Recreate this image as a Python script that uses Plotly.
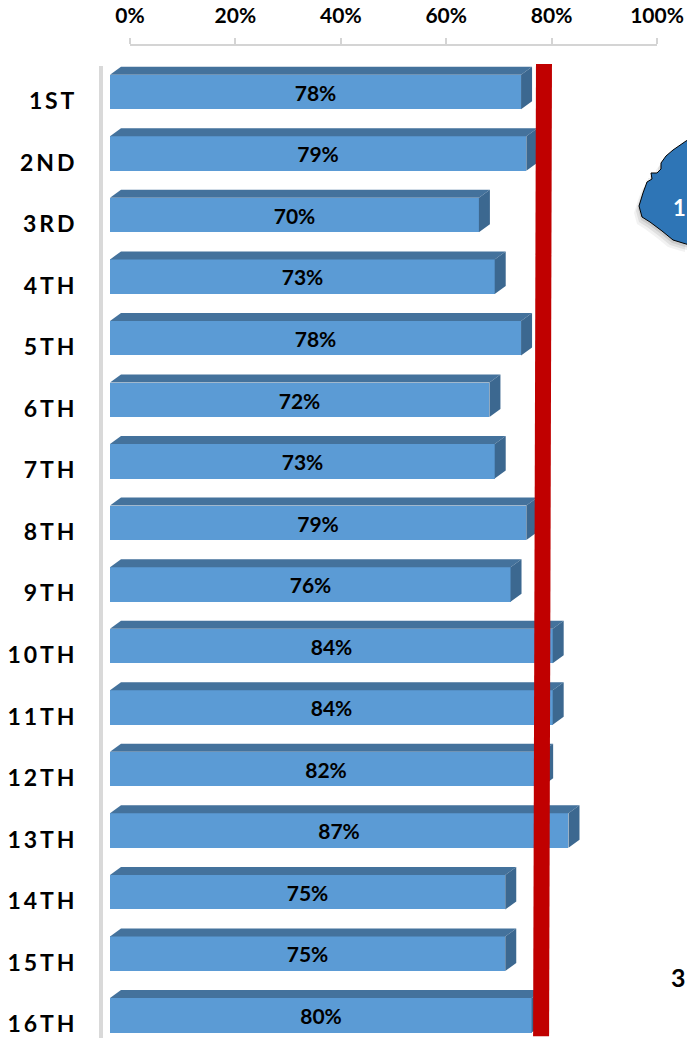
import plotly.graph_objects as go

CATEGORIES = ["1ST","2ND","3RD","4TH","5TH","6TH","7TH","8TH","9TH","10TH","11TH","12TH","13TH","14TH","15TH","16TH"]
VALUES = [78,79,70,73,78,72,73,79,76,84,84,82,87,75,75,80]
TICKS = [0,20,40,60,80,100]
TICK_LABELS = ["0%","20%","40%","60%","80%","100%"]
TARGET_X = [82.35,81.8]
TARGET_ROW = [-0.455,15.34]
BLOB_X = [690,686,673,666,661,661,657,651,652,647,643,639,642,650,662,673,686,690]
BLOB_Y = [139,141,150,156,163,169,173,173,179,182,193,206,217,222,231,240,244,245]

W,H = 687,1038
L,T = 103,46
PX = 5.27      # px per percent
ROW = 61.55    # px per row
DX = 11/PX; DY = 8/ROW; BH = 34.5/ROW
FONT = "Lato"
spaced = ["\u2009".join(c) for c in CATEGORIES]
rows = list(range(len(VALUES)))

fig = go.Figure()
topx,topy,sidex,sidey = [],[],[],[]
for r,v in zip(rows,VALUES):
    t = r-BH/2; b = r+BH/2
    topx += [0,v,v+DX,DX,0,None]; topy += [t,t,t-DY,t-DY,t,None]
    sidex += [v,v+DX,v+DX,v,v,None]; sidey += [t,t-DY,b-DY,b,t,None]
fig.add_trace(go.Scatter(x=topx,y=topy,fill="toself",fillcolor="#44729C",mode="none",hoverinfo="skip",showlegend=False))
fig.add_trace(go.Scatter(x=sidex,y=sidey,fill="toself",fillcolor="#3C6890",mode="none",hoverinfo="skip",showlegend=False))
fig.add_trace(go.Bar(x=VALUES,y=rows,orientation="h",width=BH,marker=dict(color="#5B9BD5",line=dict(width=0)),
    text=[f"{v}%" for v in VALUES],textposition="inside",insidetextanchor="middle",textangle=0,
    constraintext="none",textfont=dict(family=FONT,size=21,color="black",weight="bold"),showlegend=False))
fig.add_trace(go.Scatter(x=TARGET_X,y=TARGET_ROW,mode="lines",line=dict(color="#C00000",width=16),hoverinfo="skip",showlegend=False))
# helper traces that keep the two display axes alive
fig.add_trace(go.Scatter(x=TICKS,y=[0]*len(TICKS),xaxis="x2",yaxis="y",mode="markers",opacity=0,hoverinfo="skip",showlegend=False))
fig.add_trace(go.Scatter(x=[0]*len(rows),y=rows,xaxis="x",yaxis="y2",mode="markers",opacity=0,hoverinfo="skip",showlegend=False))

pw = W-L; ph = H-T
def px_path(xs,ys,ox=0,oy=0):
    pts = [f"{(x+ox-L)/pw:.5f} {1-(y+oy-T)/ph:.5f}" for x,y in zip(xs,ys)]
    return "M "+" L ".join(pts)+" Z"
shapes = []
for ox,oy,a in [(-5,7,0.05),(-3,5,0.07),(-1,3,0.09)]:
    shapes.append(dict(type="path",xref="paper",yref="paper",layer="above",path=px_path(BLOB_X,BLOB_Y,ox,oy),fillcolor=f"rgba(0,0,0,{a})",line=dict(width=0)))
shapes.append(dict(type="path",xref="paper",yref="paper",layer="above",path=px_path(BLOB_X,BLOB_Y),fillcolor="#2E75B6",line=dict(color="black",width=1)))

fig.update_layout(
    width=W,height=H,margin=dict(l=L,r=0,t=T,b=0,autoexpand=False),paper_bgcolor="white",plot_bgcolor="rgba(0,0,0,0)",bargap=0,
    xaxis=dict(range=[(L-110)/PX,(W-110)/PX],visible=False,domain=[0,1],automargin=False),
    xaxis2=dict(domain=[(130-L)/pw,(657-L)/pw],range=[0,100],anchor="y",side="top",tickmode="array",tickvals=TICKS,ticktext=TICK_LABELS,automargin=False,
        showline=True,linecolor="#D4D4D4",linewidth=2,ticks="outside",ticklen=6,tickcolor="#D4D4D4",tickwidth=2,showgrid=False,zeroline=False,
        tickfont=dict(family=FONT,size=21,color="black",weight="bold"),ticklabelstandoff=7),
    yaxis=dict(range=[(H-92)/ROW,(T-92)/ROW],visible=False,domain=[0,1],automargin=False),
    yaxis2=dict(domain=[0,(H-66)/ph],range=[(H-101)/ROW,(66-101)/ROW],anchor="x",side="left",tickmode="array",tickvals=rows,ticktext=spaced,automargin=False,
        showline=True,linecolor="#D9D9D9",linewidth=4,ticks="",showgrid=False,zeroline=False,
        tickfont=dict(family=FONT,size=23,color="black",weight="bold"),ticklabelstandoff=20),
    shapes=shapes,
    annotations=[
        dict(xref="paper",yref="paper",x=(688-L)/pw,y=1-(207-T)/ph,text="<b>1</b>",showarrow=False,xanchor="right",yanchor="middle",font=dict(family=FONT,size=22,color="white")),
        dict(xref="paper",yref="paper",x=(688-L)/pw,y=1-(977-T)/ph,text="<b>3</b>",showarrow=False,xanchor="right",yanchor="middle",font=dict(family=FONT,size=25,color="black")),
    ],
)
fig.write_html("out.html",config={"displayModeBar":False},post_script="document.body.style.margin='0';document.documentElement.style.overflow='hidden';")
